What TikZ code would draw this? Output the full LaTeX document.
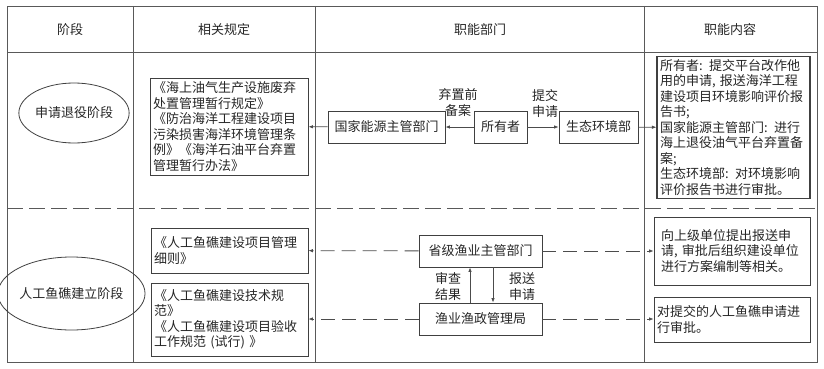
\documentclass[tikz,border=0pt]{standalone}
\usepackage{fontspec}
\newfontfamily\cjk{Noto Sans CJK SC}
\usetikzlibrary{arrows.meta,shapes.geometric,calc}

\begin{document}
\begin{tikzpicture}[x=1pt, y=-1pt, >={Latex[length=4.5pt,width=3.5pt]},
    font=\cjk\fontsize{13}{15.5}\selectfont, text=black!85,
    grid/.style={draw=black!65, line width=0.8pt},
    box/.style={draw=black!75, line width=0.8pt, inner sep=3pt, align=left},
    stage/.style={ellipse, draw=black!75, line width=0.8pt, inner sep=0pt},
    lnk/.style={->, draw=black!70, line width=0.8pt},
    dlnk/.style={lnk, dash pattern=on 14pt off 7pt},
    lbl/.style={align=center, inner sep=0pt, font=\cjk\fontsize{13}{16}\selectfont}]
  \useasboundingbox (0,0) rectangle (824,369);
  % ---------------- table ----------------
  \draw[grid] (7,6) rectangle (817,362);
  \foreach \x in {133,315,644} {
     \draw[grid] (\x,6) -- (\x,362);
  }
  \draw[grid] (7,52) -- (817,52);
  \draw[grid, dash pattern=on 16pt off 6pt] (7,208) -- (817,208);
  \node (h1) at (70,30) {阶段};
  \node (h2) at (224,30) {相关规定};
  \node (h3) at (480,30) {职能部门};
  \node (h4) at (730,30) {职能内容};
  % ---------------- stage 1: decommissioning ----------------
  \node[stage, minimum width=98pt, minimum height=60pt] (st1) at (74,113) {申请退役阶段};
  \node[box, text width=152pt, minimum height=97pt] (reg1) at (229,126.5)
     {《海上油气生产设施废弃\\处置管理暂行规定》\\《防治海洋工程建设项目\\污染损害海洋环境管理条\\例》《海洋石油平台弃置\\管理暂行办法》};
  \node[box, minimum width=117pt, minimum height=32pt, align=center] (nyj) at (386.5,127) {国家能源主管部门};
  \node[box, minimum width=53pt, minimum height=32pt, align=center] (syz) at (500.5,127) {所有者};
  \node[box, minimum width=79pt, minimum height=32pt, align=center] (sthj) at (598.5,127) {生态环境部};
  \node[box, text width=147pt, minimum height=141pt, line width=1.1pt] (cont1) at (733.5,127.5)
     {所有者: 提交平台改作他\\用的申请, 报送海洋工程\\建设项目环境影响评价报\\告书;\\国家能源主管部门: 进行\\海上退役油气平台弃置备\\案;\\生态环境部: 对环境影响\\评价报告书进行审批。};
  \draw[lnk] (syz) -- (nyj);
  \draw[lnk] (syz) -- (sthj);
  \draw[lnk] (nyj) -- (reg1);
  \draw[lnk] (sthj) -- (cont1);
  \node[lbl] (l1) at (458,103) {弃置前\\备案};
  \node[lbl] (l2) at (545,103) {提交\\申请};
  % ---------------- stage 2: artificial reef ----------------
  \node[stage, minimum width=117pt, minimum height=73pt] (st2) at (71.5,293.5) {人工鱼礁建立阶段};
  \node[box, text width=151pt, minimum height=45pt] (reg2a) at (229.5,250.5)
     {《人工鱼礁建设项目管理\\细则》};
  \node[box, text width=151pt, minimum height=73pt] (reg2b) at (229.5,319.5)
     {《人工鱼礁建设技术规\\范》\\《人工鱼礁建设项目验收\\工作规范 (试行) 》};
  \node[box, minimum width=123pt, minimum height=32pt, align=center] (sj) at (480.5,251) {省级渔业主管部门};
  \node[box, minimum width=123pt, minimum height=32pt, align=center] (yz) at (480.5,319) {渔业渔政管理局};
  \node[box, inner xsep=7pt, text width=142pt, minimum height=68pt] (cont2a) at (732,251)
     {向上级单位提出报送申\\请, 审批后组织建设单位\\进行方案编制等相关。};
  \node[box, text width=150pt, minimum height=45pt] (cont2b) at (732,319.5)
     {对提交的人工鱼礁申请进\\行审批。};
  \draw[dlnk] (sj) -- (reg2a);
  \draw[dlnk] (sj) -- (cont2a);
  \draw[dlnk] (yz) -- (reg2b.east |- yz);
  \draw[dlnk] (yz) -- (cont2b.west |- yz);
  \draw[lnk] ([xshift=-10.5pt]yz.north) -- ([xshift=-10.5pt]sj.south);
  \draw[lnk] ([xshift=12.5pt]sj.south) -- ([xshift=12.5pt]yz.north);
  \node[lbl] (l3) at (448,287) {审查\\结果};
  \node[lbl] (l4) at (522,287) {报送\\申请};
\end{tikzpicture}
\end{document}
